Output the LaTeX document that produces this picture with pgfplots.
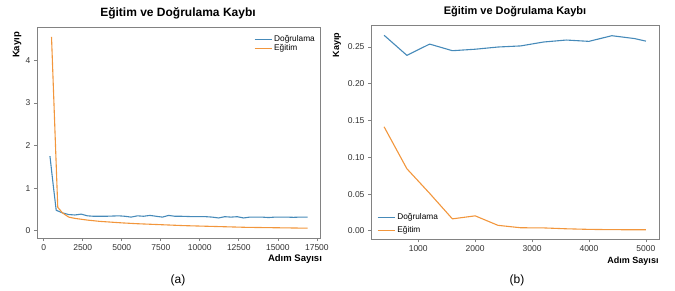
\documentclass[border=0pt]{standalone}
\usepackage{fontspec}
\setmainfont{Liberation Sans}
\usepackage{pgfplots}
\pgfplotsset{compat=1.18}
\definecolor{cblue}{RGB}{70,138,185}
\definecolor{corange}{RGB}{242,150,60}
\definecolor{framegray}{RGB}{130,130,130}
\definecolor{ticktext}{RGB}{50,50,50}
\begin{document}
\begin{tikzpicture}
\pgfplotsset{
  mystyle/.style={
    scale only axis,
    anchor=south west,
    axis line style={framegray, line width=0.9pt},
    tick style={framegray, line width=0.7pt},
    tick align=outside,
    major tick length=3pt,
    xtick pos=bottom, ytick pos=left,
    tick label style={font=\fontsize{8.5}{9}\selectfont, text=ticktext},
    /pgf/number format/assume math mode=true,
    /pgf/number format/1000 sep={},
    scaled x ticks=false, scaled y ticks=false,
    legend cell align=left,
    legend style={draw=none, fill=none, font=\fontsize{8.3}{9}\selectfont, row sep=-2.5pt},
    legend image post style={line width=1.2pt},
    every axis plot/.append style={line width=1.1pt, line join=round},
  }
}
% Left axis
\begin{axis}[mystyle,
  at={(37pt,52pt)}, width=283pt, height=211pt,
  xmin=-430, xmax=17700, ymin=-0.17, ymax=4.78,
  xtick={0,2500,5000,7500,10000,12500,15000,17500},
  ytick={0,1,2,3,4},
  legend style={at={(1.0,0.98)}, anchor=north east},
]
\addplot[cblue] coordinates {
(400,1.75) (600,1.10) (800,0.48) (1200,0.42) (1600,0.38) (2000,0.37) (2400,0.39) (2800,0.35)
(3200,0.34) (3600,0.34) (4000,0.34) (4400,0.345) (4800,0.35) (5200,0.34) (5600,0.32) (6000,0.35)
(6400,0.34) (6800,0.36) (7200,0.34) (7600,0.32) (8000,0.36) (8400,0.34) (8800,0.34) (9200,0.335)
(9600,0.33) (10000,0.33) (10400,0.33) (10800,0.32) (11200,0.30) (11600,0.33) (12000,0.32) (12400,0.33)
(12800,0.30) (13200,0.32) (13600,0.32) (14000,0.32) (14400,0.31) (14800,0.32) (15200,0.32) (15600,0.32)
(16000,0.315) (16400,0.32) (16900,0.32)
};
\addlegendentry{Doğrulama}
\addplot[corange] coordinates {
(500,4.55) (900,0.55) (1200,0.42) (1600,0.32) (2000,0.29) (2400,0.27) (2800,0.25) (3200,0.235)
(3600,0.22) (4000,0.21) (5000,0.185) (6000,0.165) (7000,0.15) (8000,0.135) (9000,0.12) (10000,0.11)
(11000,0.10) (12000,0.09) (13000,0.08) (14000,0.075) (15000,0.07) (16000,0.065) (16900,0.06)
};
\addlegendentry{Eğitim}
\end{axis}
% Right axis
\begin{axis}[mystyle,
  at={(371pt,50.7pt)}, width=288pt, height=213.6pt,
  xmin=170, xmax=5230, ymin=-0.0115, ymax=0.2790,
  xtick={1000,2000,3000,4000,5000},
  ytick={0,0.05,0.10,0.15,0.20,0.25},
  yticklabel style={/pgf/number format/.cd, fixed, fixed zerofill, precision=2},
  legend style={at={(0.01,0.005)}, anchor=south west, row sep=1.5pt},
]
\addplot[cblue] coordinates {
(400,0.266) (800,0.2387) (1200,0.254) (1600,0.245) (2000,0.247) (2400,0.250) (2800,0.2515)
(3200,0.2568) (3600,0.2595) (4000,0.2577) (4400,0.2654) (4800,0.2615) (5000,0.258)
};
\addlegendentry{Doğrulama}
\addplot[corange] coordinates {
(400,0.1415) (800,0.0845) (1200,0.051) (1600,0.0163) (2000,0.0204) (2400,0.0075) (2800,0.0042)
(3200,0.0040) (3600,0.0028) (4000,0.0020) (4400,0.0016) (4800,0.0015) (5000,0.0015)
};
\addlegendentry{Eğitim}
\end{axis}
% Titles and labels
\node[font=\bfseries\fontsize{12}{14}\selectfont] at (178pt,277pt) {Eğitim ve Doğrulama Kaybı};
\node[font=\bfseries\fontsize{11}{13}\selectfont] at (515pt,278pt) {Eğitim ve Doğrulama Kaybı};
\node[font=\bfseries\fontsize{9.5}{11}\selectfont, rotate=90] at (17pt,245pt) {Kayıp};
\node[font=\bfseries\fontsize{9}{10}\selectfont, rotate=90] at (337pt,245pt) {Kayıp};
\node[font=\bfseries\fontsize{9.5}{11}\selectfont] at (295pt,31pt) {Adım Sayısı};
\node[font=\bfseries\fontsize{9}{10}\selectfont] at (633pt,29pt) {Adım Sayısı};
\node[font=\fontsize{12}{14}\selectfont] at (178pt,10pt) {(a)};
\node[font=\fontsize{12}{14}\selectfont] at (517pt,10pt) {(b)};
\pgfresetboundingbox
\path (0pt,0pt) rectangle (675pt,290pt);
\end{tikzpicture}
\end{document}
